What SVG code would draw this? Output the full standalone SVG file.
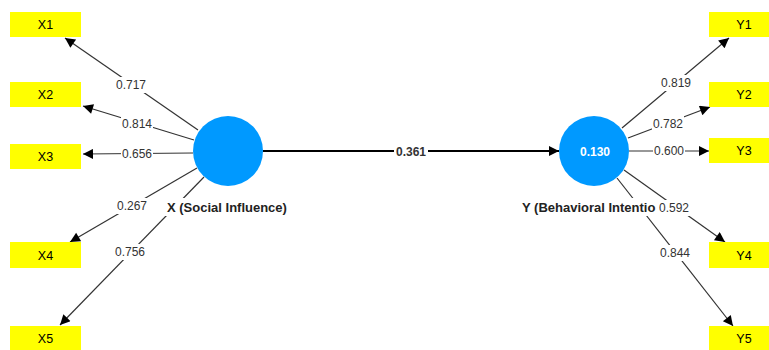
<svg xmlns="http://www.w3.org/2000/svg" width="769" height="350" viewBox="0 0 769 350">
<style>
.box{fill:#FFFF00}
.bt{font-family:"Liberation Sans",Arial,sans-serif;font-size:12.5px;fill:#000;text-anchor:middle;dominant-baseline:central}
.lv{fill:#0099FF}
.ln{stroke:#333;stroke-width:1.2;fill:none}
.lbg{fill:#fff}
.lt{font-family:"Liberation Sans",Arial,sans-serif;font-size:12px;fill:#333;text-anchor:middle;dominant-baseline:central}
.nm{font-family:"Liberation Sans",Arial,sans-serif;font-size:13px;font-weight:bold;fill:#222;dominant-baseline:central}
</style>
<defs>
<marker id="ah" viewBox="0 0 10 10" refX="10" refY="5" markerWidth="12" markerHeight="10" markerUnits="userSpaceOnUse" orient="auto">
<path d="M0,0 L10,5 L0,10 z" fill="#000"/>
</marker>
</defs>
<g id="connectors">
<line class="ln" x1="198" y1="130" x2="65" y2="38" marker-end="url(#ah)"/>
<line class="ln" x1="194" y1="140" x2="83" y2="106" marker-end="url(#ah)"/>
<line class="ln" x1="193" y1="153" x2="83" y2="154" marker-end="url(#ah)"/>
<line class="ln" x1="197" y1="168" x2="70" y2="242" marker-end="url(#ah)"/>
<line class="ln" x1="204" y1="177" x2="60" y2="325" marker-end="url(#ah)"/>
<line x1="263" y1="151" x2="559" y2="151" stroke="#000" stroke-width="2" marker-end="url(#ah)"/>
<line class="ln" x1="622" y1="128" x2="729" y2="38" marker-end="url(#ah)"/>
<line class="ln" x1="628" y1="138" x2="710" y2="107" marker-end="url(#ah)"/>
<line class="ln" x1="629" y1="151" x2="709" y2="151" marker-end="url(#ah)"/>
<line class="ln" x1="624" y1="170" x2="725" y2="242" marker-end="url(#ah)"/>
<line class="ln" x1="617" y1="178" x2="733" y2="326" marker-end="url(#ah)"/>
</g>
<g id="node-X">
<circle class="lv" cx="228" cy="151" r="35"/>
<rect class="lbg" x="165" y="198" width="124" height="18"/>
<text class="nm" x="167" y="207">X (Social Influence)</text>
</g>
<g id="node-Y">
<circle class="lv" cx="594" cy="151" r="35"/>
<text x="595" y="152" font-family="Liberation Sans,Arial,sans-serif" font-size="12" font-weight="bold" fill="#fff" text-anchor="middle" dominant-baseline="central">0.130</text>
<rect class="lbg" x="520" y="198" width="140" height="18"/>
<text class="nm" x="522" y="207">Y (Behavioral Intentio</text>
</g>
<g id="labels">
<rect class="lbg" x="115" y="77" width="32" height="16"/><text class="lt" x="131" y="85">0.717</text>
<rect class="lbg" x="121" y="116" width="32" height="16"/><text class="lt" x="137" y="124">0.814</text>
<rect class="lbg" x="121" y="146" width="32" height="16"/><text class="lt" x="137" y="154">0.656</text>
<rect class="lbg" x="116" y="198" width="32" height="16"/><text class="lt" x="132" y="206">0.267</text>
<rect class="lbg" x="114" y="244" width="32" height="16"/><text class="lt" x="130" y="252">0.756</text>
<rect class="lbg" x="394" y="144" width="34" height="16"/><text class="lt" x="411" y="152" font-weight="bold" fill="#111">0.361</text>
<rect class="lbg" x="660" y="75" width="32" height="16"/><text class="lt" x="676" y="83">0.819</text>
<rect class="lbg" x="652" y="116" width="32" height="16"/><text class="lt" x="668" y="124">0.782</text>
<rect class="lbg" x="653" y="143" width="32" height="16"/><text class="lt" x="669" y="151">0.600</text>
<rect class="lbg" x="658" y="200" width="32" height="16"/><text class="lt" x="674" y="208">0.592</text>
<rect class="lbg" x="659" y="245" width="32" height="16"/><text class="lt" x="675" y="253">0.844</text>
</g>
<g id="node-X1"><rect class="box" x="10" y="12" width="71" height="25"/><text class="bt" x="45.5" y="25">X1</text></g>
<g id="node-X2"><rect class="box" x="10" y="82" width="71" height="25"/><text class="bt" x="45.5" y="95">X2</text></g>
<g id="node-X3"><rect class="box" x="10" y="144" width="71" height="25"/><text class="bt" x="45.5" y="157">X3</text></g>
<g id="node-X4"><rect class="box" x="10" y="242" width="71" height="26"/><text class="bt" x="45.5" y="256">X4</text></g>
<g id="node-X5"><rect class="box" x="10" y="326" width="71" height="26"/><text class="bt" x="45.5" y="339">X5</text></g>
<g id="node-Y1"><rect class="box" x="709" y="12" width="71" height="25"/><text class="bt" x="744" y="25">Y1</text></g>
<g id="node-Y2"><rect class="box" x="709" y="82" width="71" height="25"/><text class="bt" x="744" y="95">Y2</text></g>
<g id="node-Y3"><rect class="box" x="709" y="138" width="71" height="25"/><text class="bt" x="744" y="151">Y3</text></g>
<g id="node-Y4"><rect class="box" x="709" y="242" width="71" height="26"/><text class="bt" x="744" y="256">Y4</text></g>
<g id="node-Y5"><rect class="box" x="709" y="326" width="71" height="26"/><text class="bt" x="744" y="339">Y5</text></g>
</svg>
